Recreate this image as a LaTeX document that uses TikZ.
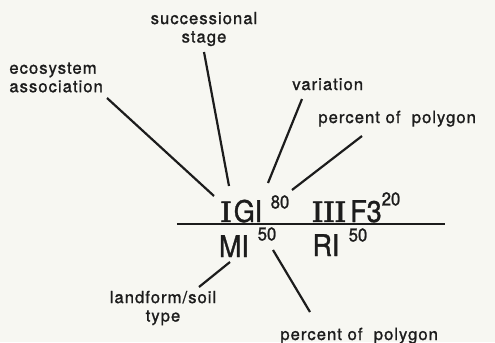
\documentclass[tikz,border=0pt]{standalone}
\usepackage{fontspec}
\usepackage{graphicx}
\usetikzlibrary{positioning}
\newfontfamily\lblfont[LetterSpace=6,FakeBold=1.2]{TeX Gyre Heros}
\newfontfamily\codefont[FakeStretch=0.9,FakeBold=1.2]{TeX Gyre Heros}
\newfontfamily\romfont[FakeBold=1.5]{Latin Modern Roman}
\definecolor{paper}{RGB}{247,247,242}
\definecolor{ink}{RGB}{28,28,28}
\newcommand{\rnum}[1]{\scalebox{0.85}[1]{\fontsize{17}{17}\romfont\bfseries #1}}

\begin{document}
\begin{tikzpicture}[x=0.2mm,y=-0.2mm,
        lbl/.style={font=\lblfont\fontsize{9.5}{10.5}\selectfont,text=ink,inner sep=0pt,align=center},
        codetxt/.style={font=\codefont\fontsize{17}{17}\selectfont,text=ink,inner sep=0pt,anchor=base},
        sup/.style={font=\codefont\fontsize{10.5}{11}\selectfont,text=ink,inner sep=0pt},
        conn/.style={draw=ink,line width=1.25pt},
        divider/.style={draw=ink,line width=1.6pt}]
        \fill[paper] (0,0) rectangle (495,342);
        \useasboundingbox (0,0) rectangle (495,342);
        % labels
        \node[lbl,align=left,anchor=west] (eco) at (9,77.5) {ecosystem\\association};
        \node[lbl] (succ) at (204,29) {successional\\stage};
        \node[lbl,anchor=base west] (var) at (292,90) {variation};
        \node[lbl,anchor=base west] (pctTop) at (318,123) {percent of \ polygon};
        \node[lbl] (land) at (163,308) {landform/soil\\type};
        \node[lbl,anchor=base west] (pctBot) at (280,340) {percent of \ polygon};
        % code
        \node[codetxt] (romI) at (226,222) {\rnum{I}};
        \node[codetxt] (gi) at (248,222) {GI};
        \node[sup] (s80) at (280,202) {80};
        \node[codetxt] (romIII) at (329,222) {\rnum{III}};
        \node[codetxt] (f3) at (366,222) {F3};
        \node[sup] (s20) at (391,199) {20};
        \node[codetxt] (mi) at (234,257) {MI};
        \node[sup] (s50a) at (267,234) {50};
        \node[codetxt] (ri) at (326,256) {RI};
        \node[sup] (s50b) at (358,235) {50};
        % line ends
        \coordinate (ecoFoot) at (107,98);   \coordinate (ecoTip) at (214,196);
        \coordinate (succFoot) at (204,52);  \coordinate (succTip) at (229,186);
        \coordinate (varFoot) at (302,99);   \coordinate (varTip) at (268,183);
        \coordinate (pctFoot) at (362,136);  \coordinate (pctTip) at (292,190);
        \coordinate (landFoot) at (199,287); \coordinate (landTip) at (230,262);
        \coordinate (botFoot) at (310,312);  \coordinate (botTip) at (273,250);
        \coordinate (ruleL) at (177,224);    \coordinate (ruleR) at (445,224);
        \draw[divider] (ruleL) -- (ruleR);
        \draw[conn] (ecoFoot) -- (ecoTip);
        \draw[conn] (succFoot) -- (succTip);
        \draw[conn] (varFoot) -- (varTip);
        \draw[conn] (pctFoot) -- (pctTip);
        \draw[conn] (landFoot) -- (landTip);
        \draw[conn] (botFoot) -- (botTip);
      \end{tikzpicture}
\end{document}
